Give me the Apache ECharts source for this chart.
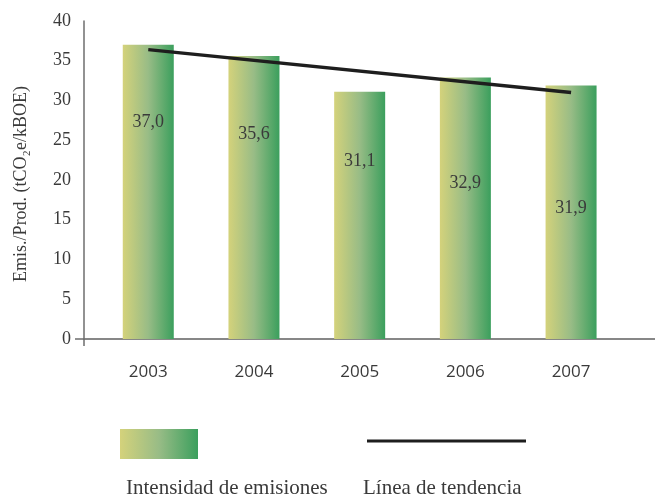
<!DOCTYPE html>
<html>
<head>
<meta charset="utf-8">
<script src="https://cdn.jsdelivr.net/npm/echarts@6/dist/echarts.min.js"></script>
<style>
html,body{margin:0;padding:0;background:#fff;}
#chart{width:655px;height:498px;}
</style>
</head>
<body>
<div id="chart"></div>
<script>
// ---- data ----
var years = [2003, 2004, 2005, 2006, 2007];
var intensity = [37.0, 35.6, 31.1, 32.9, 31.9];
var trendYears = [2003, 2007];
var trendValues = [36.4, 31.0];
var yTicks = [0, 5, 10, 15, 20, 25, 30, 35, 40];
var seriesNames = ['Intensidad de emisiones', 'Línea de tendencia'];
var yAxisTitle = 'Emis./Prod. (tCO₂e/kBOE)';

// ---- styles ----
var labelOffsets = [63, 64, 56, 92, 109];
var serif = '"Liberation Serif", "Times New Roman", serif';
var barGradient = function () {
  return new echarts.graphic.LinearGradient(0, 0, 1, 0, [
    {offset: 0, color: '#d4d27b'},
    {offset: 0.5, color: '#98bc86'},
    {offset: 1, color: '#3b9f5d'}
  ]);
};

var xMin = 2002.392, xMax = 2007.794;

var chart = echarts.init(document.getElementById('chart'));
var barData = years.map(function (y, i) {
  return {value: [y, intensity[i]], label: {offset: [0, labelOffsets[i]]}};
});
var trendData = trendYears.map(function (y, i) { return [y, trendValues[i]]; });

chart.setOption({
  animation: false,
  grid: {left: 84, right: 0, top: 21, bottom: 159, containLabel: false},
  xAxis: {
    type: 'value', min: xMin, max: xMax,
    axisLine: {show: true, onZero: false, lineStyle: {color: '#6e6e6e', width: 1.5}},
    axisTick: {show: true, customValues: [xMin], length: 7, lineStyle: {color: '#6e6e6e', width: 1.5}},
    splitLine: {show: false},
    axisLabel: {
      customValues: years, margin: 25,
      formatter: function (v) { return String(Math.round(v)); },
      fontFamily: '"Open Sans", sans-serif', fontSize: 17, color: '#3a3a3a'
    }
  },
  yAxis: {
    type: 'value', min: 0, max: 40, interval: 5,
    name: yAxisTitle, nameLocation: 'middle', nameGap: 54,
    nameTextStyle: {fontFamily: serif, fontSize: 18, color: '#3a3a3a', padding: [0, 8, 0, 0]},
    axisLine: {show: true, lineStyle: {color: '#6e6e6e', width: 1.5}},
    axisTick: {show: true, customValues: [0], length: 9, lineStyle: {color: '#6e6e6e', width: 1.5}},
    splitLine: {show: true, lineStyle: {color: '#c9c9c9', width: 1.5}},
    axisLabel: {
      customValues: yTicks, margin: 13,
      fontFamily: serif, fontSize: 18, color: '#3a3a3a'
    }
  },
  series: [
    {
      name: seriesNames[0], type: 'bar', barWidth: 51,
      data: barData,
      itemStyle: {color: barGradient()},
      label: {
        show: true, position: 'insideTop',
        fontFamily: serif, fontSize: 18, color: '#3a3a3a',
        formatter: function (p) { return p.value[1].toFixed(1).replace('.', ','); }
      },
      z: 2
    },
    {
      name: seriesNames[1], type: 'line', data: trendData,
      symbol: 'none', lineStyle: {color: '#1e1e1e', width: 3.5}, z: 3
    }
  ],
  graphic: [
    {type: 'rect', left: 120, top: 429, shape: {width: 78, height: 30},
     style: {fill: barGradient()}},
    {type: 'line', shape: {x1: 367, y1: 441, x2: 526, y2: 441},
     style: {stroke: '#1e1e1e', lineWidth: 3}},
    {type: 'text', left: 126, top: 478,
     style: {text: seriesNames[0], font: '21px ' + serif, fill: '#3a3a3a'}},
    {type: 'text', left: 363, top: 478,
     style: {text: seriesNames[1], font: '21px ' + serif, fill: '#3a3a3a'}}
  ]
});
</script>
</body>
</html>
